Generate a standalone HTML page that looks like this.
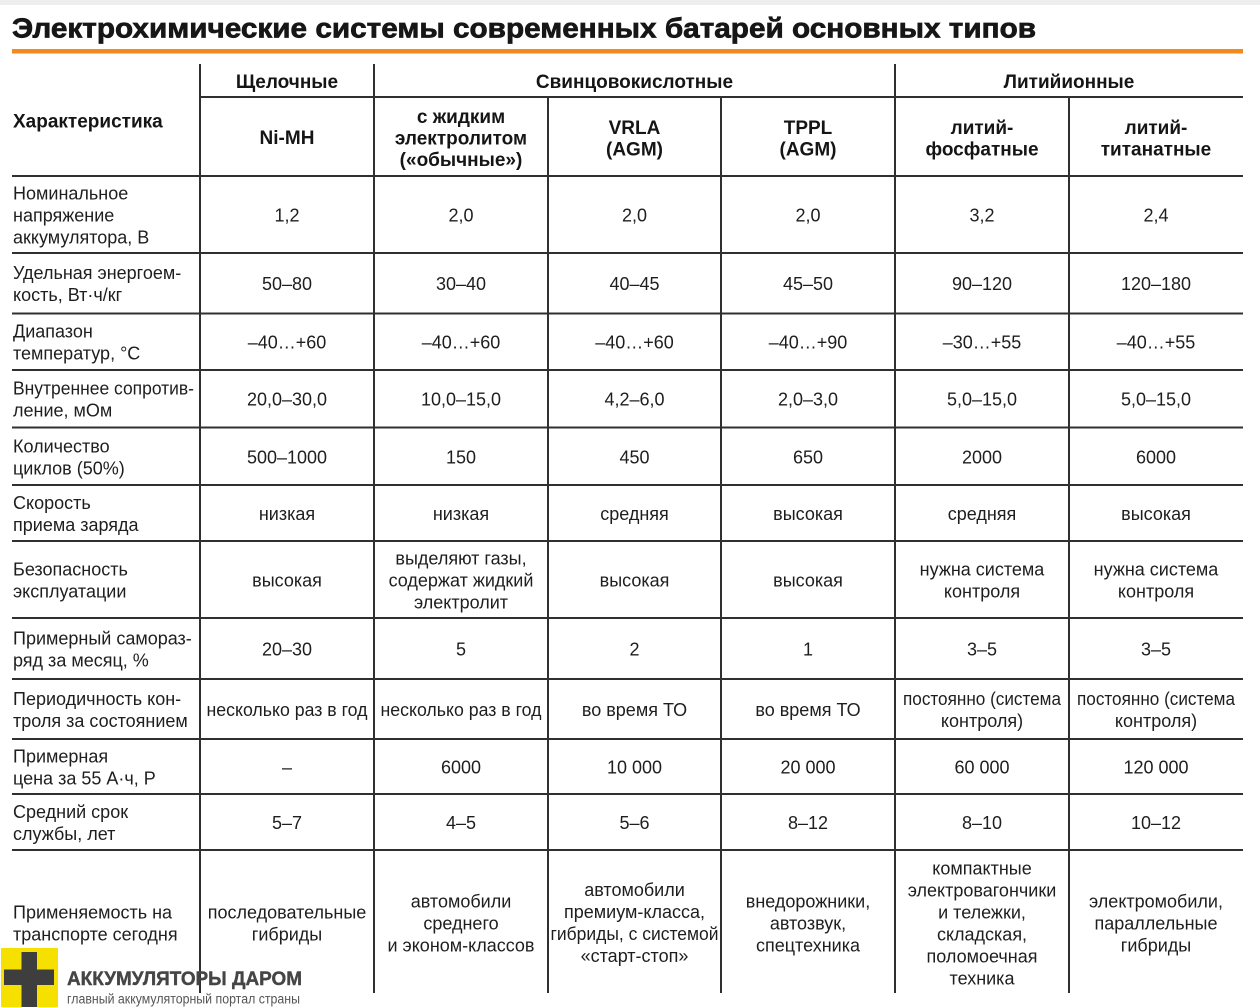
<!DOCTYPE html>
<html><head><meta charset="utf-8"><style>
html,body{margin:0;padding:0;background:#fff;}
svg{display:block;}
text{font-family:"Liberation Sans","Noto Sans CJK SC",sans-serif;fill:#1e1e1e;}
.b{font-weight:bold;}
.h{font-size:19px;font-weight:bold;text-anchor:middle;fill:#151515;}
.v{font-size:18px;text-anchor:middle;}
.l{font-size:18px;}
</style></head><body>
<svg width="1260" height="1007" viewBox="0 0 1260 1007" xmlns="http://www.w3.org/2000/svg">
<rect x="0" y="0" width="1260" height="1007" fill="#fff"/>
<rect x="0" y="0" width="1260" height="5" fill="#eeeeee"/>
<text x="12" y="37.5" class="b" style="font-size:28px;fill:#161616;stroke:#161616;stroke-width:0.7px" textLength="1024" lengthAdjust="spacingAndGlyphs">Электрохимические системы современных батарей основных типов</text>
<rect x="12" y="49" width="1231" height="4.5" fill="#f28a1e"/>

<g stroke="#303030" stroke-width="2" fill="none">
<line x1="200" y1="64" x2="200" y2="993"/>
<line x1="374" y1="64" x2="374" y2="993"/>
<line x1="895" y1="64" x2="895" y2="993"/>
<line x1="548" y1="97" x2="548" y2="993"/>
<line x1="721" y1="97" x2="721" y2="993"/>
<line x1="1069" y1="97" x2="1069" y2="993"/>
<line x1="200" y1="97" x2="1243" y2="97"/>
<line x1="12" y1="176" x2="1243" y2="176"/>
<line x1="12" y1="253" x2="1243" y2="253"/>
<line x1="12" y1="313.5" x2="1243" y2="313.5"/>
<line x1="12" y1="370" x2="1243" y2="370"/>
<line x1="12" y1="427.5" x2="1243" y2="427.5"/>
<line x1="12" y1="485" x2="1243" y2="485"/>
<line x1="12" y1="541" x2="1243" y2="541"/>
<line x1="12" y1="618" x2="1243" y2="618"/>
<line x1="12" y1="679" x2="1243" y2="679"/>
<line x1="12" y1="739" x2="1243" y2="739"/>
<line x1="12" y1="794" x2="1243" y2="794"/>
<line x1="12" y1="850" x2="1243" y2="850"/>
</g>

<!-- header -->
<text x="13" y="127.5" class="b" style="font-size:19px;fill:#151515">Характеристика</text>
<text x="287" y="88" class="h">Щелочные</text>
<text x="634.5" y="88" class="h">Свинцовокислотные</text>
<text x="1069" y="88" class="h">Литийионные</text>
<text x="287" y="144" class="h">Ni-MH</text>
<text x="461" y="123" class="h">с жидким</text>
<text x="461" y="144.5" class="h">электролитом</text>
<text x="461" y="166" class="h">(«обычные»)</text>
<text x="634.5" y="134" class="h">VRLA</text>
<text x="634.5" y="155.5" class="h">(AGM)</text>
<text x="808" y="134" class="h">TPPL</text>
<text x="808" y="155.5" class="h">(AGM)</text>
<text x="982" y="134" class="h">литий-</text>
<text x="982" y="155.5" class="h">фосфатные</text>
<text x="1156" y="134" class="h">литий-</text>
<text x="1156" y="155.5" class="h">титанатные</text>

<!-- row 1 -->
<text x="13" y="199.5" class="l">Номинальное</text>
<text x="13" y="221.5" class="l">напряжение</text>
<text x="13" y="243.5" class="l">аккумулятора, В</text>
<text x="287" y="221.5" class="v">1,2</text>
<text x="461" y="221.5" class="v">2,0</text>
<text x="634.5" y="221.5" class="v">2,0</text>
<text x="808" y="221.5" class="v">2,0</text>
<text x="982" y="221.5" class="v">3,2</text>
<text x="1156" y="221.5" class="v">2,4</text>

<!-- row 2 -->
<text x="13" y="279" class="l">Удельная энергоем-</text>
<text x="13" y="301" class="l">кость, Вт·ч/кг</text>
<text x="287" y="290" class="v">50–80</text>
<text x="461" y="290" class="v">30–40</text>
<text x="634.5" y="290" class="v">40–45</text>
<text x="808" y="290" class="v">45–50</text>
<text x="982" y="290" class="v">90–120</text>
<text x="1156" y="290" class="v">120–180</text>

<!-- row 3 -->
<text x="13" y="337.5" class="l">Диапазон</text>
<text x="13" y="359.5" class="l">температур, °С</text>
<text x="287" y="348.5" class="v">–40…+60</text>
<text x="461" y="348.5" class="v">–40…+60</text>
<text x="634.5" y="348.5" class="v">–40…+60</text>
<text x="808" y="348.5" class="v">–40…+90</text>
<text x="982" y="348.5" class="v">–30…+55</text>
<text x="1156" y="348.5" class="v">–40…+55</text>

<!-- row 4 -->
<text x="13" y="394.5" class="l" textLength="181" lengthAdjust="spacingAndGlyphs">Внутреннее сопротив-</text>
<text x="13" y="416.5" class="l">ление, мОм</text>
<text x="287" y="405.5" class="v">20,0–30,0</text>
<text x="461" y="405.5" class="v">10,0–15,0</text>
<text x="634.5" y="405.5" class="v">4,2–6,0</text>
<text x="808" y="405.5" class="v">2,0–3,0</text>
<text x="982" y="405.5" class="v">5,0–15,0</text>
<text x="1156" y="405.5" class="v">5,0–15,0</text>

<!-- row 5 -->
<text x="13" y="452.5" class="l">Количество</text>
<text x="13" y="474.5" class="l">циклов (50%)</text>
<text x="287" y="463.5" class="v">500–1000</text>
<text x="461" y="463.5" class="v">150</text>
<text x="634.5" y="463.5" class="v">450</text>
<text x="808" y="463.5" class="v">650</text>
<text x="982" y="463.5" class="v">2000</text>
<text x="1156" y="463.5" class="v">6000</text>

<!-- row 6 -->
<text x="13" y="509" class="l">Скорость</text>
<text x="13" y="531" class="l">приема заряда</text>
<text x="287" y="520" class="v">низкая</text>
<text x="461" y="520" class="v">низкая</text>
<text x="634.5" y="520" class="v">средняя</text>
<text x="808" y="520" class="v">высокая</text>
<text x="982" y="520" class="v">средняя</text>
<text x="1156" y="520" class="v">высокая</text>

<!-- row 7 -->
<text x="13" y="575.5" class="l">Безопасность</text>
<text x="13" y="597.5" class="l">эксплуатации</text>
<text x="287" y="586.5" class="v">высокая</text>
<text x="461" y="564.5" class="v">выделяют газы,</text>
<text x="461" y="586.5" class="v">содержат жидкий</text>
<text x="461" y="608.5" class="v">электролит</text>
<text x="634.5" y="586.5" class="v">высокая</text>
<text x="808" y="586.5" class="v">высокая</text>
<text x="982" y="575.5" class="v">нужна система</text>
<text x="982" y="597.5" class="v">контроля</text>
<text x="1156" y="575.5" class="v">нужна система</text>
<text x="1156" y="597.5" class="v">контроля</text>

<!-- row 8 -->
<text x="13" y="644.5" class="l">Примерный самораз-</text>
<text x="13" y="666.5" class="l">ряд за месяц, %</text>
<text x="287" y="655.5" class="v">20–30</text>
<text x="461" y="655.5" class="v">5</text>
<text x="634.5" y="655.5" class="v">2</text>
<text x="808" y="655.5" class="v">1</text>
<text x="982" y="655.5" class="v">3–5</text>
<text x="1156" y="655.5" class="v">3–5</text>

<!-- row 9 -->
<text x="13" y="705" class="l">Периодичность кон-</text>
<text x="13" y="727" class="l">троля за состоянием</text>
<text x="287" y="716" class="v" textLength="161" lengthAdjust="spacingAndGlyphs">несколько раз в год</text>
<text x="461" y="716" class="v" textLength="161" lengthAdjust="spacingAndGlyphs">несколько раз в год</text>
<text x="634.5" y="716" class="v">во время ТО</text>
<text x="808" y="716" class="v">во время ТО</text>
<text x="982" y="705" class="v" textLength="158" lengthAdjust="spacingAndGlyphs">постоянно (система</text>
<text x="982" y="727" class="v">контроля)</text>
<text x="1156" y="705" class="v" textLength="158" lengthAdjust="spacingAndGlyphs">постоянно (система</text>
<text x="1156" y="727" class="v">контроля)</text>

<!-- row 10 -->
<text x="13" y="762.5" class="l">Примерная</text>
<text x="13" y="784.5" class="l">цена за 55 А·ч, Р</text>
<text x="287" y="773.5" class="v">–</text>
<text x="461" y="773.5" class="v">6000</text>
<text x="634.5" y="773.5" class="v">10 000</text>
<text x="808" y="773.5" class="v">20 000</text>
<text x="982" y="773.5" class="v">60 000</text>
<text x="1156" y="773.5" class="v">120 000</text>

<!-- row 11 -->
<text x="13" y="818" class="l">Средний срок</text>
<text x="13" y="840" class="l">службы, лет</text>
<text x="287" y="829" class="v">5–7</text>
<text x="461" y="829" class="v">4–5</text>
<text x="634.5" y="829" class="v">5–6</text>
<text x="808" y="829" class="v">8–12</text>
<text x="982" y="829" class="v">8–10</text>
<text x="1156" y="829" class="v">10–12</text>

<!-- row 12 -->
<text x="13" y="918.5" class="l">Применяемость на</text>
<text x="13" y="940.5" class="l">транспорте сегодня</text>
<text x="287" y="918.5" class="v">последовательные</text>
<text x="287" y="940.5" class="v">гибриды</text>
<text x="461" y="907.5" class="v">автомобили</text>
<text x="461" y="929.5" class="v">среднего</text>
<text x="461" y="951.5" class="v">и эконом-классов</text>
<text x="634.5" y="896" class="v">автомобили</text>
<text x="634.5" y="918" class="v">премиум-класса,</text>
<text x="634.5" y="940" class="v" textLength="168" lengthAdjust="spacingAndGlyphs">гибриды, с системой</text>
<text x="634.5" y="962" class="v">«старт-стоп»</text>
<text x="808" y="907.5" class="v">внедорожники,</text>
<text x="808" y="929.5" class="v">автозвук,</text>
<text x="808" y="951.5" class="v">спецтехника</text>
<text x="982" y="874.5" class="v">компактные</text>
<text x="982" y="896.5" class="v">электровагончики</text>
<text x="982" y="918.5" class="v">и тележки,</text>
<text x="982" y="940.5" class="v">складская,</text>
<text x="982" y="962.5" class="v">поломоечная</text>
<text x="982" y="984.5" class="v">техника</text>
<text x="1156" y="907.5" class="v">электромобили,</text>
<text x="1156" y="929.5" class="v">параллельные</text>
<text x="1156" y="951.5" class="v">гибриды</text>

<!-- logo -->
<rect x="1" y="948" width="57" height="59" fill="#f6e000"/>
<rect x="21.5" y="952" width="15.5" height="55" fill="#3e3e3e"/>
<rect x="4" y="969.5" width="50" height="15.5" fill="#3e3e3e"/>
<text x="67" y="985" class="b" style="font-size:19px;fill:#454545;stroke:#454545;stroke-width:0.4px" textLength="235" lengthAdjust="spacingAndGlyphs">АККУМУЛЯТОРЫ ДАРОМ</text>
<text x="67" y="1003.5" style="font-size:13.5px;fill:#555" textLength="233" lengthAdjust="spacingAndGlyphs">главный аккумуляторный портал страны</text>
</svg>
</body></html>
